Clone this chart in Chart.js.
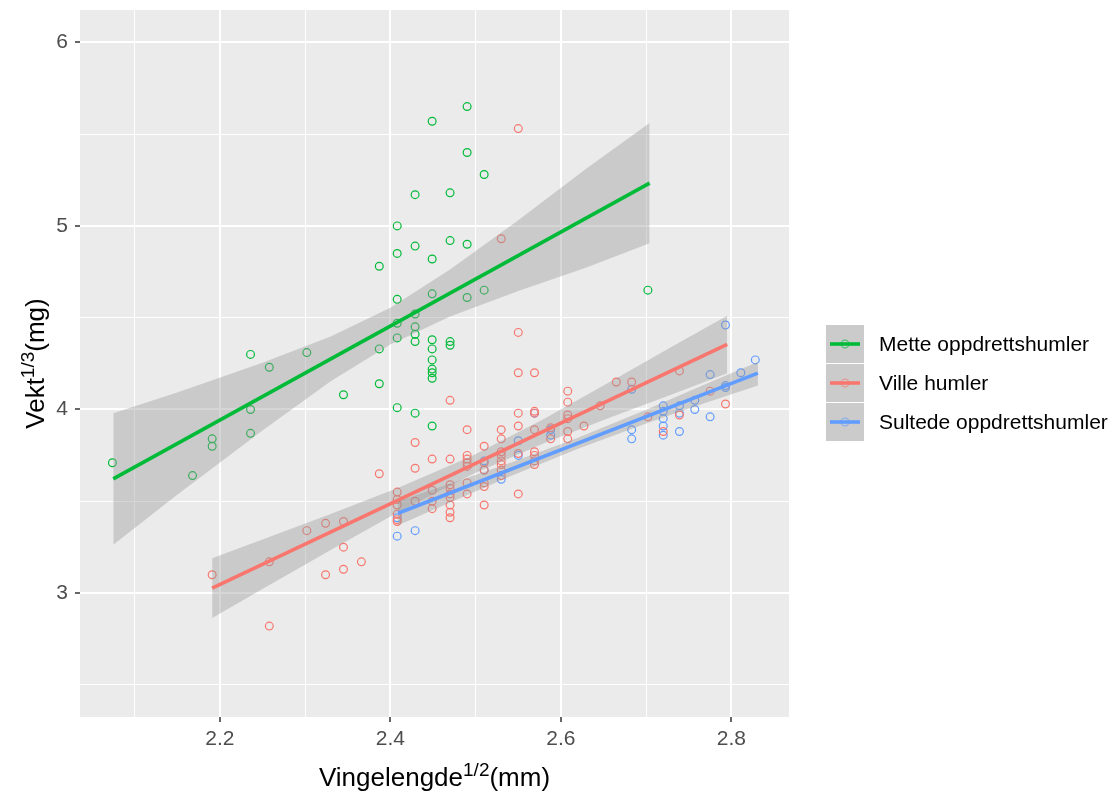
<!DOCTYPE html>
<html>
<head>
<meta charset="utf-8">
<script src="https://cdn.jsdelivr.net/npm/chart.js@4.4.1/dist/chart.umd.min.js"></script>
<style>
  html, body { margin: 0; padding: 0; background: #ffffff; }
</style>
</head>
<body>
<canvas id="chart" width="1115" height="794"></canvas>
<script>
// grupper og farger (ggplot-standard)
const groupNames = ["Mette oppdrettshumler", "Ville humler", "Sultede oppdrettshumler"];
const groupColors = ["#00BA38", "#F8766D", "#619CFF"];

// x = vingelengde^(1/2), y = vekt^(1/3)
const metteX = [2.074, 2.168, 2.191, 2.191, 2.236, 2.236, 2.236, 2.258, 2.302, 2.345,
  2.387, 2.387, 2.387, 2.408, 2.408, 2.408, 2.408, 2.408, 2.408,
  2.429, 2.429, 2.429, 2.429, 2.429, 2.429, 2.429,
  2.449, 2.449, 2.449, 2.449, 2.449, 2.449, 2.449, 2.449, 2.449, 2.449,
  2.470, 2.470, 2.470, 2.470, 2.490, 2.490, 2.490, 2.490, 2.510, 2.510, 2.702];
const metteY = [3.71, 3.64, 3.84, 3.80, 4.30, 4.00, 3.87, 4.23, 4.31, 4.08,
  4.78, 4.33, 4.14, 5.00, 4.85, 4.60, 4.47, 4.39, 4.01,
  5.17, 4.89, 4.52, 4.45, 4.41, 4.37, 3.98,
  5.57, 4.82, 4.63, 4.38, 4.33, 4.27, 4.22, 4.20, 4.17, 3.91,
  5.18, 4.92, 4.37, 4.35, 5.65, 5.40, 4.90, 4.61, 5.28, 4.65, 4.65];

const villeX = [2.191, 2.258, 2.258, 2.302, 2.324, 2.324, 2.345, 2.345, 2.345, 2.366, 2.387,
  2.408, 2.408, 2.408, 2.408, 2.408, 2.408, 2.429, 2.429, 2.429,
  2.449, 2.449, 2.449, 2.449,
  2.470, 2.470, 2.470, 2.470, 2.470, 2.470, 2.470, 2.470, 2.470,
  2.490, 2.490, 2.490, 2.490, 2.490, 2.490, 2.490,
  2.510, 2.510, 2.510, 2.510, 2.510, 2.510,
  2.530, 2.530, 2.530, 2.530, 2.530, 2.530, 2.530, 2.530, 2.530,
  2.550, 2.550, 2.550, 2.550, 2.550, 2.550, 2.550,
  2.569, 2.569, 2.569, 2.569, 2.569, 2.569, 2.569, 2.569,
  2.588, 2.588, 2.608, 2.608, 2.608, 2.608, 2.608, 2.608,
  2.627, 2.646, 2.665, 2.683, 2.702, 2.720, 2.739, 2.739, 2.775, 2.793];
const villeY = [3.10, 3.17, 2.82, 3.34, 3.38, 3.10, 3.39, 3.25, 3.13, 3.17, 3.65,
  3.55, 3.51, 3.48, 3.43, 3.40, 3.39, 3.82, 3.68, 3.50,
  3.73, 3.56, 3.50, 3.46,
  4.05, 3.73, 3.59, 3.57, 3.54, 3.52, 3.48, 3.44, 3.41,
  3.89, 3.75, 3.73, 3.71, 3.69, 3.60, 3.54,
  3.80, 3.71, 3.67, 3.60, 3.58, 3.48,
  4.93, 3.89, 3.84, 3.77, 3.75, 3.72, 3.70, 3.67, 3.64,
  5.53, 4.42, 4.20, 3.98, 3.91, 3.76, 3.54,
  4.20, 3.99, 3.98, 3.89, 3.77, 3.75, 3.72, 3.70,
  3.90, 3.84, 4.10, 4.04, 3.97, 3.95, 3.88, 3.84,
  3.91, 4.02, 4.15, 4.15, 3.96, 3.88, 4.21, 3.97, 4.10, 4.03];

const sultX = [2.408, 2.408, 2.429, 2.510, 2.510, 2.530, 2.550, 2.550, 2.569, 2.588, 2.588,
  2.683, 2.683, 2.683, 2.720, 2.720, 2.720, 2.720, 2.720,
  2.739, 2.739, 2.739, 2.757, 2.757, 2.775, 2.775, 2.793, 2.793, 2.793, 2.811, 2.828];
const sultY = [3.31, 3.41, 3.34, 3.72, 3.67, 3.62, 3.83, 3.75, 3.98, 3.89, 3.86,
  4.11, 3.89, 3.84, 4.02, 3.99, 3.95, 3.91, 3.86,
  4.02, 3.98, 3.88, 4.05, 4.00, 4.19, 3.96, 4.46, 4.13, 4.12, 4.20, 4.27];

// regresjonslinjer (endepunkter) og konfidensbånd, avlest
const metteFitX = [2.075, 2.704];
const metteFitY = [3.622, 5.233];
const metteBandX = [2.075, 2.15, 2.25, 2.33, 2.40, 2.47, 2.55, 2.63, 2.704];
const metteBandHi = [3.98, 4.093, 4.254, 4.397, 4.554, 4.762, 5.031, 5.312, 5.56];
const metteBandLo = [3.263, 3.535, 3.886, 4.154, 4.354, 4.506, 4.645, 4.774, 4.905];

const villeFitX = [2.191, 2.795];
const villeFitY = [3.027, 4.355];
const villeBandX = [2.191, 2.25, 2.33, 2.41, 2.495, 2.58, 2.66, 2.73, 2.795];
const villeBandHi = [3.19, 3.292, 3.431, 3.575, 3.745, 3.948, 4.156, 4.342, 4.51];
const villeBandLo = [2.864, 3.022, 3.235, 3.443, 3.645, 3.816, 3.960, 4.082, 4.198];

const sultFitX = [2.409, 2.831];
const sultFitY = [3.435, 4.198];
const sultBandX = [2.409, 2.47, 2.54, 2.62, 2.70, 2.77, 2.831];
const sultBandHi = [3.50, 3.596, 3.709, 3.846, 3.998, 4.139, 4.258];
const sultBandLo = [3.37, 3.494, 3.635, 3.786, 3.924, 4.037, 4.13];

// akser
const xMajor = [2.2, 2.4, 2.6, 2.8];
const xMinor = [2.1, 2.3, 2.5, 2.7];
const yMajor = [3, 4, 5, 6];
const yMinor = [2.5, 3.5, 4.5, 5.5];
const xRange = [2.036, 2.8675];
const yRange = [2.325, 6.176];

const FONT = "'Liberation Sans', Arial, sans-serif";
const BAND_FILL = "rgba(153,153,153,0.4)";

function pts(xs, ys) {
  return xs.map((x, i) => ({ x: x, y: ys[i] }));
}
function isMajor(list, v) {
  return list.some((m) => Math.abs(m - v) < 1e-9);
}

const allX = [metteX, villeX, sultX];
const allY = [metteY, villeY, sultY];
const fits = [[metteFitX, metteFitY], [villeFitX, villeFitY], [sultFitX, sultFitY]];
const bands = [
  [metteBandX, metteBandHi, metteBandLo],
  [villeBandX, villeBandHi, villeBandLo],
  [sultBandX, sultBandHi, sultBandLo],
];

const datasets = [];
// punkter nederst
groupNames.forEach((name, g) => {
  datasets.push({
    label: name,
    data: pts(allX[g], allY[g]),
    showLine: false,
    pointStyle: "circle",
    pointRadius: 3.9,
    pointBorderWidth: 1.2,
    pointBackgroundColor: "rgba(0,0,0,0)",
    pointBorderColor: groupColors[g],
    order: 100,
  });
});
// bånd + linje per gruppe
groupNames.forEach((name, g) => {
  const [bx, hi, lo] = bands[g];
  datasets.push({
    label: name + " hi",
    data: pts(bx, hi),
    showLine: true,
    borderWidth: 0,
    borderColor: "rgba(0,0,0,0)",
    pointRadius: 0,
    fill: "+1",
    backgroundColor: BAND_FILL,
    order: 30 - g * 10,
  });
  datasets.push({
    label: name + " lo",
    data: pts(bx, lo),
    showLine: true,
    borderWidth: 0,
    borderColor: "rgba(0,0,0,0)",
    pointRadius: 0,
    fill: false,
    order: 30 - g * 10,
  });
  datasets.push({
    label: name + " fit",
    data: pts(fits[g][0], fits[g][1]),
    showLine: true,
    borderColor: groupColors[g],
    borderWidth: 3.6,
    pointRadius: 0,
    fill: false,
    order: 29 - g * 10,
  });
});

// panelbakgrunn
const panelBg = {
  id: "panelBg",
  beforeDraw(chart) {
    const { ctx, chartArea: a } = chart;
    ctx.save();
    ctx.fillStyle = "#EBEBEB";
    ctx.fillRect(a.left, a.top, a.right - a.left, a.bottom - a.top);
    ctx.restore();
  },
};

function drawSupText(ctx, parts, x, y, size, supSize, rise) {
  let w = 0;
  parts.forEach((p) => {
    ctx.font = (p.sup ? supSize : size) + "px " + FONT;
    w += ctx.measureText(p.t).width;
  });
  let cx = x - w / 2;
  parts.forEach((p) => {
    ctx.font = (p.sup ? supSize : size) + "px " + FONT;
    ctx.fillText(p.t, cx, p.sup ? y - rise : y);
    cx += ctx.measureText(p.t).width;
  });
}

// aksetitler og legende
const extras = {
  id: "extras",
  afterDraw(chart) {
    const { ctx, chartArea: a } = chart;
    ctx.save();
    ctx.fillStyle = "#000000";
    ctx.textAlign = "left";
    ctx.textBaseline = "alphabetic";
    drawSupText(ctx, [{ t: "Vingelengde" }, { t: "1/2", sup: true }, { t: "(mm)" }],
      (a.left + a.right) / 2, 786, 26, 19, 10);
    ctx.save();
    ctx.translate(43.5, (a.top + a.bottom) / 2);
    ctx.rotate(-Math.PI / 2);
    drawSupText(ctx, [{ t: "Vekt" }, { t: "1/3", sup: true }, { t: "(mg)" }],
      0, 0, 26, 19, 10);
    ctx.restore();

    // legende
    const kx = 826, ky = 325, ks = 38, gap = 1;
    groupNames.forEach((name, g) => {
      const y0 = ky + g * (ks + gap);
      const cy = y0 + ks / 2;
      ctx.fillStyle = "#CBCBCB";
      ctx.fillRect(kx, y0, ks, ks);
      ctx.strokeStyle = groupColors[g];
      ctx.globalAlpha = 0.6;
      ctx.lineWidth = 1.2;
      ctx.beginPath();
      ctx.arc(kx + ks / 2, cy, 3.9, 0, Math.PI * 2);
      ctx.stroke();
      ctx.globalAlpha = 1;
      ctx.lineWidth = 3.6;
      ctx.beginPath();
      ctx.moveTo(kx + 4, cy);
      ctx.lineTo(kx + ks - 4, cy);
      ctx.stroke();
      ctx.fillStyle = "#000000";
      ctx.font = "21px " + FONT;
      ctx.textBaseline = "middle";
      ctx.fillText(name, 879, cy + 1);
    });
    ctx.restore();
  },
};

new Chart(document.getElementById("chart"), {
  type: "scatter",
  data: { datasets: datasets },
  options: {
    responsive: false,
    animation: false,
    events: [],
    layout: { padding: { left: 0, top: 10, right: 326, bottom: 0 } },
    plugins: {
      legend: { display: false },
      tooltip: { enabled: false },
      filler: { propagate: false },
    },
    scales: {
      x: {
        type: "linear",
        min: xRange[0],
        max: xRange[1],
        afterFit(s) { s.height = 77; s.paddingLeft = 0; s.paddingRight = 0; },
        afterBuildTicks(s) {
          s.ticks = xMinor.concat(xMajor).sort((a, b) => a - b).map((v) => ({ value: v }));
        },
        border: { display: false },
        grid: {
          color: "#FFFFFF",
          lineWidth: (c) => (c.tick && isMajor(xMajor, c.tick.value) ? 2 : 1),
          tickColor: (c) => (c.tick && isMajor(xMajor, c.tick.value) ? "#333333" : "rgba(0,0,0,0)"),
          tickLength: 5,
          tickWidth: 1.5,
        },
        ticks: {
          autoSkip: false,
          maxRotation: 0,
          padding: 5,
          color: "#4D4D4D",
          font: { family: FONT, size: 21 },
          callback: (v) => (isMajor(xMajor, v) ? v.toFixed(1) : ""),
        },
      },
      y: {
        type: "linear",
        min: yRange[0],
        max: yRange[1],
        afterFit(s) { s.width = 80; s.paddingTop = 0; s.paddingBottom = 0; },
        afterBuildTicks(s) {
          s.ticks = yMinor.concat(yMajor).sort((a, b) => a - b).map((v) => ({ value: v }));
        },
        border: { display: false },
        grid: {
          color: "#FFFFFF",
          lineWidth: (c) => (c.tick && isMajor(yMajor, c.tick.value) ? 2 : 1),
          tickColor: (c) => (c.tick && isMajor(yMajor, c.tick.value) ? "#333333" : "rgba(0,0,0,0)"),
          tickLength: 5,
          tickWidth: 1.5,
        },
        ticks: {
          autoSkip: false,
          padding: 7,
          color: "#4D4D4D",
          font: { family: FONT, size: 21 },
          callback: (v) => (isMajor(yMajor, v) ? String(v) : ""),
        },
      },
    },
  },
  plugins: [panelBg, extras],
});
</script>
</body>
</html>
